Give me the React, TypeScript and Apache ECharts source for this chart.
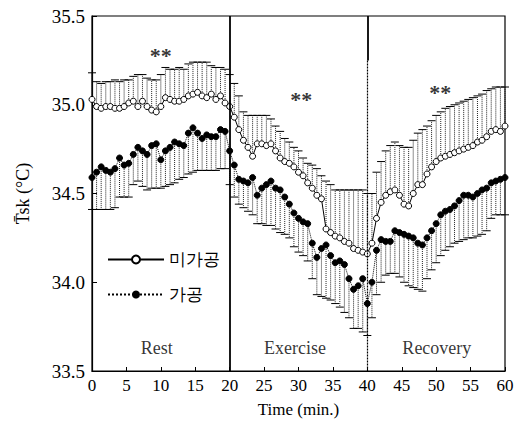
import React, { useEffect, useRef } from "react";
import * as echarts from "echarts";

// sampling every 40 s (2/3 min), 0..60 min
const SAMPLE_MIN = 2 / 3;

const RAW_MEAN = [
  35.03, 34.99, 34.98, 34.99, 34.99, 34.98, 34.98, 34.99, 35.01, 35.02, 34.99, 35.02, 34.99, 34.97, 34.96, 34.99,
  35.04, 35.03, 35.02, 35.02, 35.03, 35.05, 35.06, 35.07, 35.05, 35.04, 35.06, 35.03, 35.05, 35.01, 34.99,
  34.93, 34.86, 34.8, 34.76, 34.71, 34.78, 34.78, 34.77, 34.78, 34.74, 34.7, 34.68, 34.67, 34.65, 34.62,
  34.6, 34.56, 34.53, 34.49, 34.47, 34.3, 34.28, 34.26, 34.25, 34.23, 34.22, 34.19, 34.18, 34.17, 34.16,
  34.22, 34.36, 34.45, 34.49, 34.51, 34.52, 34.49, 34.44, 34.43, 34.5, 34.55, 34.55, 34.61, 34.65, 34.68,
  34.7, 34.71, 34.72, 34.73, 34.74, 34.75, 34.76, 34.77, 34.79, 34.8, 34.82, 34.85, 34.86, 34.85, 34.88,
];
const RAW_SD = [
  0.15, 0.14, 0.14, 0.14, 0.14, 0.16, 0.15, 0.15, 0.13, 0.14, 0.18, 0.15, 0.16, 0.17, 0.18, 0.18,
  0.17, 0.17, 0.18, 0.19, 0.17, 0.18, 0.18, 0.17, 0.19, 0.2, 0.16, 0.18, 0.16, 0.19, 0.18,
  0.19, 0.19, 0.16, 0.18, 0.23, 0.16, 0.16, 0.17, 0.14, 0.14, 0.15, 0.13, 0.12, 0.11, 0.12,
  0.1, 0.11, 0.13, 0.15, 0.13, 0.27, 0.27, 0.26, 0.27, 0.29, 0.3, 0.33, 0.34, 0.35, 0.34,
  0.28, 0.26, 0.23, 0.25, 0.26, 0.27, 0.28, 0.32, 0.33, 0.3, 0.29, 0.31, 0.27, 0.26, 0.26,
  0.26, 0.27, 0.27, 0.27, 0.27, 0.27, 0.27, 0.27, 0.26, 0.26, 0.26, 0.24, 0.24, 0.25, 0.22,
];
const PROC_MEAN = [
  34.59, 34.62, 34.65, 34.63, 34.62, 34.64, 34.7, 34.66, 34.67, 34.72, 34.76, 34.74, 34.72, 34.77, 34.78, 34.69,
  34.74, 34.76, 34.79, 34.78, 34.77, 34.84, 34.87, 34.84, 34.81, 34.83, 34.82, 34.82, 34.86, 34.85, 34.74,
  34.66, 34.58, 34.57, 34.56, 34.59, 34.49, 34.53, 34.55, 34.57, 34.53, 34.52, 34.48, 34.44, 34.39, 34.36,
  34.34, 34.33, 34.22, 34.14, 34.19, 34.21, 34.15, 34.11, 34.12, 34.1, 34.02, 33.96, 33.98, 34.02, 33.88,
  34.0, 34.18, 34.24, 34.23, 34.23, 34.29, 34.28, 34.27, 34.26, 34.25, 34.22, 34.21, 34.25, 34.29, 34.33,
  34.38, 34.4, 34.41, 34.43, 34.46, 34.49, 34.49, 34.48, 34.5, 34.52, 34.53, 34.56, 34.57, 34.58, 34.59,
];
const PROC_SD = [
  0.18, 0.21, 0.24, 0.22, 0.21, 0.22, 0.22, 0.18, 0.19, 0.17, 0.19, 0.2, 0.2, 0.24, 0.25, 0.16,
  0.2, 0.21, 0.23, 0.2, 0.18, 0.23, 0.25, 0.21, 0.18, 0.2, 0.19, 0.19, 0.22, 0.21, 0.19,
  0.18, 0.14, 0.15, 0.16, 0.21, 0.16, 0.2, 0.23, 0.25, 0.23, 0.24, 0.21, 0.19, 0.19, 0.19,
  0.19, 0.21, 0.2, 0.21, 0.27, 0.3, 0.25, 0.23, 0.26, 0.27, 0.22, 0.22, 0.24, 0.3, 0.18,
  0.2, 0.25, 0.24, 0.19, 0.18, 0.24, 0.25, 0.27, 0.28, 0.28, 0.26, 0.26, 0.23, 0.22, 0.22,
  0.23, 0.22, 0.21, 0.21, 0.23, 0.25, 0.24, 0.23, 0.24, 0.25, 0.24, 0.2, 0.19, 0.2, 0.21,
];

const SERIES_NAMES = ["미가공", "가공"];
const PHASE_NAMES = ["Rest", "Exercise", "Recovery"];
const PHASE_CENTERS = [9.4, 29.5, 50.1];
const PHASE_LABEL_Y = 33.63;
const SIG_TEXT = "**";
const SIG_X = [10, 30.4, 50.6];
const SIG_Y = [35.28, 35.03, 35.07];

const FONT = "Liberation Serif";

const TIMES = RAW_MEAN.map((_, i) => Math.round(i * SAMPLE_MIN * 1000) / 1000);

const errorRender = (dir: number) => (params: any, api: any) => {
  const t = api.value(0);
  const m = api.value(1);
  const s = api.value(2);
  const p0 = api.coord([t, m]);
  const p1 = api.coord([t, m + dir * s]);
  const hw = 4;
  return {
    type: "group",
    children: [
      {
        type: "line",
        shape: { x1: p0[0], y1: p0[1], x2: p1[0], y2: p1[1] },
        style: { stroke: "#222", lineWidth: 1, lineDash: [1, 1] },
      },
      {
        type: "line",
        shape: { x1: p1[0] - hw, y1: p1[1], x2: p1[0] + hw, y2: p1[1] },
        style: { stroke: "#000", lineWidth: 1 },
      },
    ],
  };
};

export default function App() {
  const ref = useRef<HTMLDivElement>(null);
  useEffect(() => {
    if (!ref.current) return;
    const chart = echarts.init(ref.current, undefined, { renderer: "svg" });
    const option: any = {
      animation: false,
      backgroundColor: "#fff",
      textStyle: { fontFamily: FONT },
      grid: { left: 92, right: 15, top: 16, bottom: 47, show: true, borderColor: "#000", borderWidth: 1.2, containLabel: false },
      legend: {
        data: SERIES_NAMES,
        orient: "vertical",
        left: 102,
        top: 246,
        itemWidth: 56,
        itemHeight: 10,
        itemGap: 18,
        textStyle: { fontFamily: FONT, fontSize: 17, color: "#000" },
      },
      xAxis: {
        type: "value",
        min: 0,
        max: 60,
        interval: 5,
        name: "Time (min.)",
        nameLocation: "middle",
        nameGap: 30,
        nameTextStyle: { fontFamily: FONT, fontSize: 17, color: "#000", fontWeight: "normal" },
        axisLine: { lineStyle: { color: "#000", width: 1.2 } },
        axisTick: { inside: true, length: 4, lineStyle: { color: "#000" } },
        axisLabel: { fontFamily: FONT, fontSize: 17, color: "#000", margin: 6 },
        splitLine: { show: false },
      },
      yAxis: {
        type: "value",
        min: 33.5,
        max: 35.5,
        interval: 0.5,
        name: "T\u0304sk (°C)",
        nameLocation: "middle",
        nameRotate: 90,
        nameGap: 60,
        nameTextStyle: { fontFamily: FONT, fontSize: 18, color: "#000" },
        axisLine: { lineStyle: { color: "#000", width: 1.2 } },
        axisTick: { inside: true, length: 5, lineStyle: { color: "#000" } },
        axisLabel: { fontFamily: FONT, fontSize: 19, color: "#000", margin: 7, formatter: (v: number) => v.toFixed(1) },
        splitLine: { show: false },
      },
      series: [
        {
          type: "custom",
          name: "raw-err",
          renderItem: errorRender(1),
          encode: { x: 0, y: 1 },
          data: TIMES.map((t, i) => [t, RAW_MEAN[i], RAW_SD[i]]),
          z: 2,
          silent: true,
        },
        {
          type: "custom",
          name: "proc-err",
          renderItem: errorRender(-1),
          encode: { x: 0, y: 1 },
          data: TIMES.map((t, i) => [t, PROC_MEAN[i], PROC_SD[i]]),
          z: 2,
          silent: true,
        },
        {
          type: "line",
          name: SERIES_NAMES[0],
          data: TIMES.map((t, i) => [t, RAW_MEAN[i]]),
          symbol: "circle",
          symbolSize: 6,
          showAllSymbol: true,
          lineStyle: { color: "#000", width: 1 },
          itemStyle: { color: "#fff", borderColor: "#000", borderWidth: 1 },
          z: 4,
          markLine: {
            silent: true,
            symbol: "none",
            label: { show: false },
            data: [
              [{ coord: [20, 33.5], lineStyle: { type: "solid", width: 1.8, color: "#000" } }, { coord: [20, 35.5] }],
              [{ coord: [40, 35.5], lineStyle: { type: "solid", width: 1.8, color: "#000" } }, { coord: [40, 35.25] }],
              [{ coord: [40, 35.25], lineStyle: { type: [2, 1], width: 1.2, color: "#000" } }, { coord: [40, 33.5] }],
            ],
          },
        },
        {
          type: "line",
          name: SERIES_NAMES[1],
          data: TIMES.map((t, i) => [t, PROC_MEAN[i]]),
          symbol: "circle",
          symbolSize: 6,
          showAllSymbol: true,
          lineStyle: { color: "#000", width: 1, type: "dotted" },
          itemStyle: { color: "#000", borderColor: "#000" },
          z: 4,
        },
        {
          type: "scatter",
          name: "phase",
          data: PHASE_NAMES.map((n, i) => ({ name: n, value: [PHASE_CENTERS[i], PHASE_LABEL_Y] })),
          symbolSize: 1,
          itemStyle: { color: "rgba(0,0,0,0)" },
          label: { show: true, position: "inside", formatter: "{b}", fontFamily: FONT, fontSize: 18, color: "#000" },
          silent: true,
        },
        {
          type: "scatter",
          name: "sig",
          data: SIG_X.map((x, i) => ({ name: SIG_TEXT, value: [x, SIG_Y[i]] })),
          symbolSize: 1,
          itemStyle: { color: "rgba(0,0,0,0)" },
          label: { show: true, position: "inside", formatter: "{b}", fontFamily: FONT, fontSize: 22, fontWeight: "bold", color: "#000" },
          silent: true,
        },
      ],
    };
    chart.setOption(option);
    return () => chart.dispose();
  }, []);
  return <div ref={ref} style={{ width: 520, height: 423, position: "absolute", left: 0, top: 0 }} />;
}
